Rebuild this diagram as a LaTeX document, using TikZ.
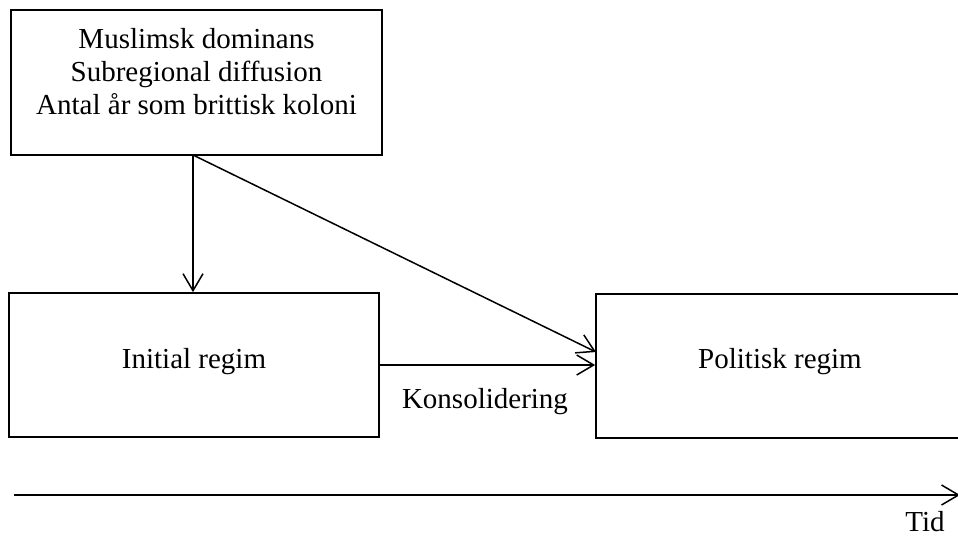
\documentclass[tikz,border=0pt]{standalone}
\usepackage{fontspec}
\setmainfont{Liberation Serif}
\usetikzlibrary{arrows.meta}
\begin{document}
\begin{tikzpicture}[x=1pt,y=1pt,
  box/.style={draw, line width=1.7pt, rectangle, inner sep=0pt},
  lbl/.style={font=\fontsize{29}{33}\selectfont, inner sep=0pt, anchor=base},
  conn/.style={line width=1.5pt, -{Straight Barb[length=17pt,width=20pt,line width=1.5pt]}}]
\useasboundingbox (0,0) rectangle (958,-537);
% boxes
\node[box, minimum width=371pt, minimum height=145pt] (top) at (196.5,-82.5) {};
\node[box, minimum width=370pt, minimum height=144pt] (init) at (194,-365) {};
\node[box, minimum width=384pt, minimum height=144pt] (pol) at (788,-366) {};
% texts
\node[font=\fontsize{29}{33}\selectfont, align=center, inner sep=0pt] (toptext) at (196.5,-72)
  {Muslimsk dominans\\Subregional diffusion\\Antal år som brittisk koloni};
\node[lbl] (inittext) at (194,-368) {Initial regim};
\node[lbl] (poltext) at (780,-368) {Politisk regim};
% connectors
\coordinate (src) at (193,-155);
\coordinate (diagend) at (596,-352);
\draw[conn] (src) -- (src |- init.north);
\draw[conn] (src) -- (diagend);
\draw[conn] (init.east) -- (init.east -| pol.west);
\node[lbl] (kons) at (485,-408) {Konsolidering};
% time axis
\coordinate (t0) at (14,-495);
\coordinate (t1) at (960,-495);
\draw[conn] (t0) -- (t1);
\node[lbl] (tid) at (925,-531) {Tid};
\end{tikzpicture}
\end{document}
